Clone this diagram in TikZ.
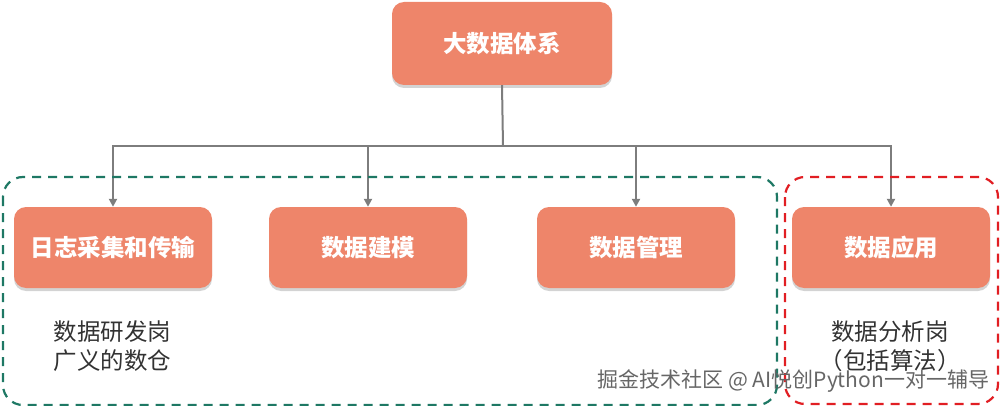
\documentclass[tikz,border=0pt]{standalone}
\usepackage{fontspec}
\newfontfamily\cjk{Noto Sans CJK SC}
\usetikzlibrary{arrows.meta,shadows}
\definecolor{boxfill}{RGB}{238,133,106}
\definecolor{linegray}{RGB}{125,125,125}
\definecolor{grn}{RGB}{30,120,100}
\definecolor{rd}{RGB}{225,30,35}
\definecolor{txt}{RGB}{50,50,50}
\tikzset{
  x=1pt,y=1pt,
  catbox/.style={draw=none,fill=boxfill,rounded corners=12pt,minimum width=198pt,minimum height=81pt,
    text=white,font=\cjk\bfseries\fontsize{23.5}{28}\selectfont,
    drop shadow={shadow xshift=0pt,shadow yshift=-3pt,opacity=0.35,fill=gray}},
  conn/.style={draw=linegray,line width=2pt},
  arr/.style={conn,-{Triangle[length=8pt,width=8pt]}},
  note/.style={text=txt,font=\cjk\fontsize{23.5}{29}\selectfont,align=left},
  group/.style={dashed,dash pattern=on 9pt off 7pt,line width=2.2pt,rounded corners=20pt}
}
\begin{document}
\begin{tikzpicture}
\useasboundingbox (0,0) rectangle (1003,-406);
\node[catbox,minimum width=220pt,minimum height=83pt] (top) at (502,-43.5) {大数据体系};
\node[catbox] (a) at (113,-247.5) {日志采集和传输};
\node[catbox] (b) at (368,-247.5) {数据建模};
\node[catbox] (c) at (636,-247.5) {数据管理};
\node[catbox] (d) at (891,-247.5) {数据应用};
\coordinate (j) at (503,-146);
\draw[conn] (top.south) -- (j);
\draw[arr] (j) -| (a.north);
\draw[arr] (j) -| (b.north);
\draw[arr] (j) -| (c.north);
\draw[arr] (j) -| (d.north);
\draw[group,grn] (3,-177) rectangle (777,-405);
\draw[group,rd] (785,-177) rectangle (998,-404);
\node[note,anchor=north west] (n1) at (50,-317) {数据研发岗\\广义的数仓};
\node[note,align=center,anchor=north] (n2) at (890,-317) {数据分析岗\\（包括算法）};
\node[text=gray!80!black,font=\cjk\fontsize{21}{24}\selectfont,anchor=west] (wm) at (594,-381) {掘金技术社区 @ AI悦创Python一对一辅导};
\end{tikzpicture}
\end{document}
